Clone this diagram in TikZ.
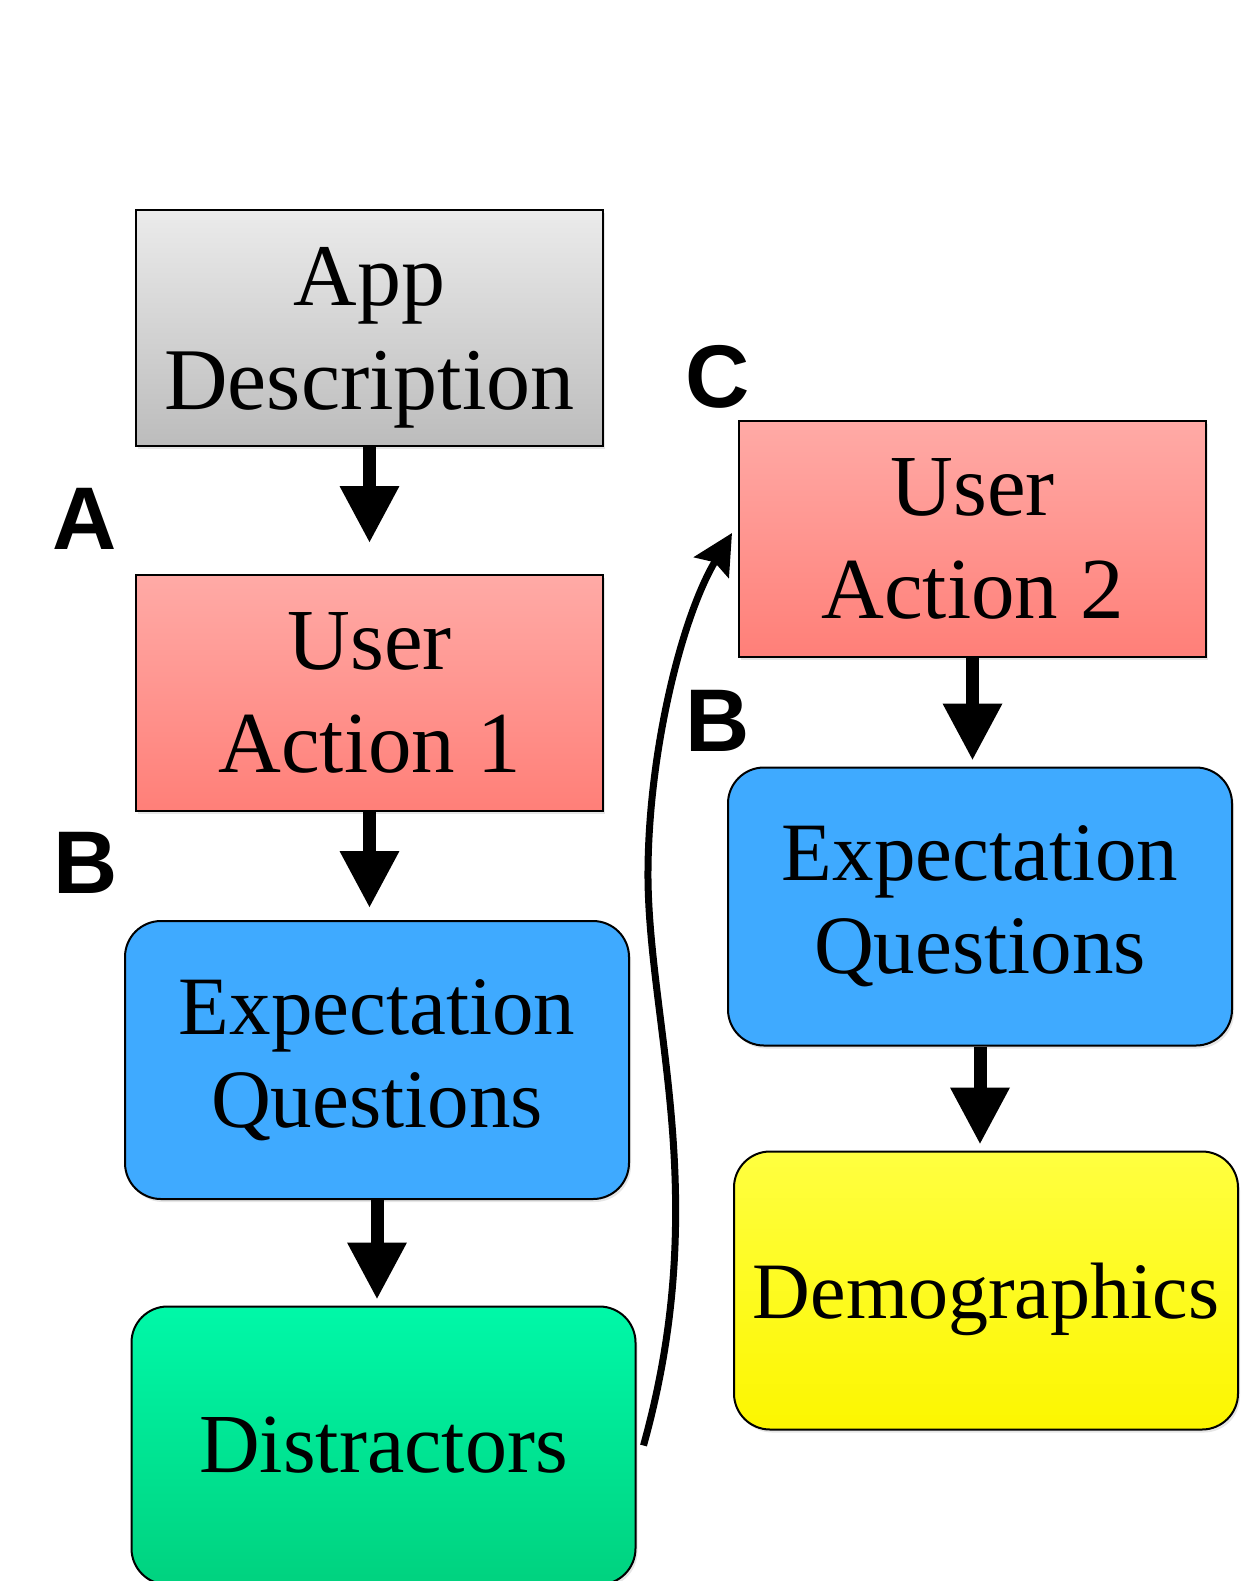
\documentclass[tikz,border=0pt]{standalone}
\usepackage{fontspec}
\setmainfont{Liberation Serif}
\newfontfamily\labelfont{Liberation Sans}
\usetikzlibrary{arrows.meta,shadows}

\definecolor{greytop}{HTML}{EBEBEB}
\definecolor{greybot}{HTML}{BCBCBC}
\definecolor{redtop}{HTML}{FFAAA6}
\definecolor{redbot}{HTML}{FF7F78}
\definecolor{questblue}{HTML}{3FAAFF}
\definecolor{greentop}{HTML}{00F8A8}
\definecolor{greenbot}{HTML}{00D27F}
\definecolor{yellowtop}{HTML}{FFFF40}
\definecolor{yellowbot}{HTML}{FCF600}

\tikzset{
  flowbox/.style={draw=black, line width=1pt, align=center, inner sep=0pt,
    minimum width=233.5pt, minimum height=118pt,
    drop shadow={opacity=0.2, shadow xshift=1pt, shadow yshift=-1.5pt}},
  descbox/.style={flowbox, top color=greytop, bottom color=greybot,
    font=\fontsize{44}{52}\selectfont},
  actionbox/.style={flowbox, top color=redtop, bottom color=redbot,
    font=\fontsize{43.5}{51.5}\selectfont},
  roundbox/.style={flowbox, rounded corners=18pt, minimum width=252pt, minimum height=139pt},
  questbox/.style={roundbox, fill=questblue, font=\fontsize{41.5}{46.5}\selectfont},
  distbox/.style={roundbox, top color=greentop, bottom color=greenbot,
    font=\fontsize{42}{50}\selectfont},
  demobox/.style={roundbox, top color=yellowtop, bottom color=yellowbot,
    font=\fontsize{40}{48}\selectfont, text depth=0pt},
  steplabel/.style={font=\labelfont\bfseries\fontsize{44.5}{50}\selectfont, inner sep=0pt},
  bigarrow/.style={line width=6.5pt, -{Triangle[width=28pt,length=28.5pt]}},
  backarrow/.style={line width=3.5pt, -{Stealth[width=20pt,length=20pt,inset=3pt]}}
}

\begin{document}
\begin{tikzpicture}[x=0.5pt,y=-0.5pt]
        \useasboundingbox (0,0) rectangle (1243,1581);
        \clip (0,0) rectangle (1243,1581);

        % Left column
        \node[descbox] (appdesc) at (369.5,328) {App\\\raisebox{0pt}[\height][0pt]{Description}};
        \node[actionbox] (act1) at (369.5,693) {User\\Action 1};
        \node[questbox] (exp1) at (377,1060) {Expectation\\Questions};
        \node[distbox] (distr) at (383.5,1445.5) {Distractors};

        % Right column
        \node[actionbox] (act2) at (972.5,539) {User\\Action 2};
        \node[questbox] (exp2) at (980,906.5) {Expectation\\Questions};
        \node[demobox] (demo) at (986,1290.5) {Demographics};

        % Step labels
        \node[steplabel] (labA) at (84.5,519) {A};
        \node[steplabel] (labB1) at (85.5,862.5) {B};
        \node[steplabel] (labC) at (717.5,377) {C};
        \node[steplabel] (labB2) at (717.5,720.5) {B};

        % Arrows
        \draw[bigarrow, shorten >=15.5pt] (appdesc.south) -- (appdesc.south |- act1.north);
        \draw[bigarrow, shorten >=6pt] (act1.south) -- (act1.south |- exp1.north);
        \draw[bigarrow, shorten >=3pt] (exp1.south) -- (exp1.south |- distr.north);
        \draw[bigarrow, shorten >=3pt] (act2.south) -- (act2.south |- exp2.north);
        \draw[bigarrow, shorten >=3pt] (exp2.south) -- (exp2.south |- demo.north);

        % Back to the second action
        \draw[backarrow] ([xshift=3.5pt]distr.east) .. controls (712,1200) and (650,1030) .. (648,880)
              .. controls (647,760) and (680,620) .. ([xshift=-3pt,yshift=3pt]act2.west);
    \end{tikzpicture}
\end{document}
